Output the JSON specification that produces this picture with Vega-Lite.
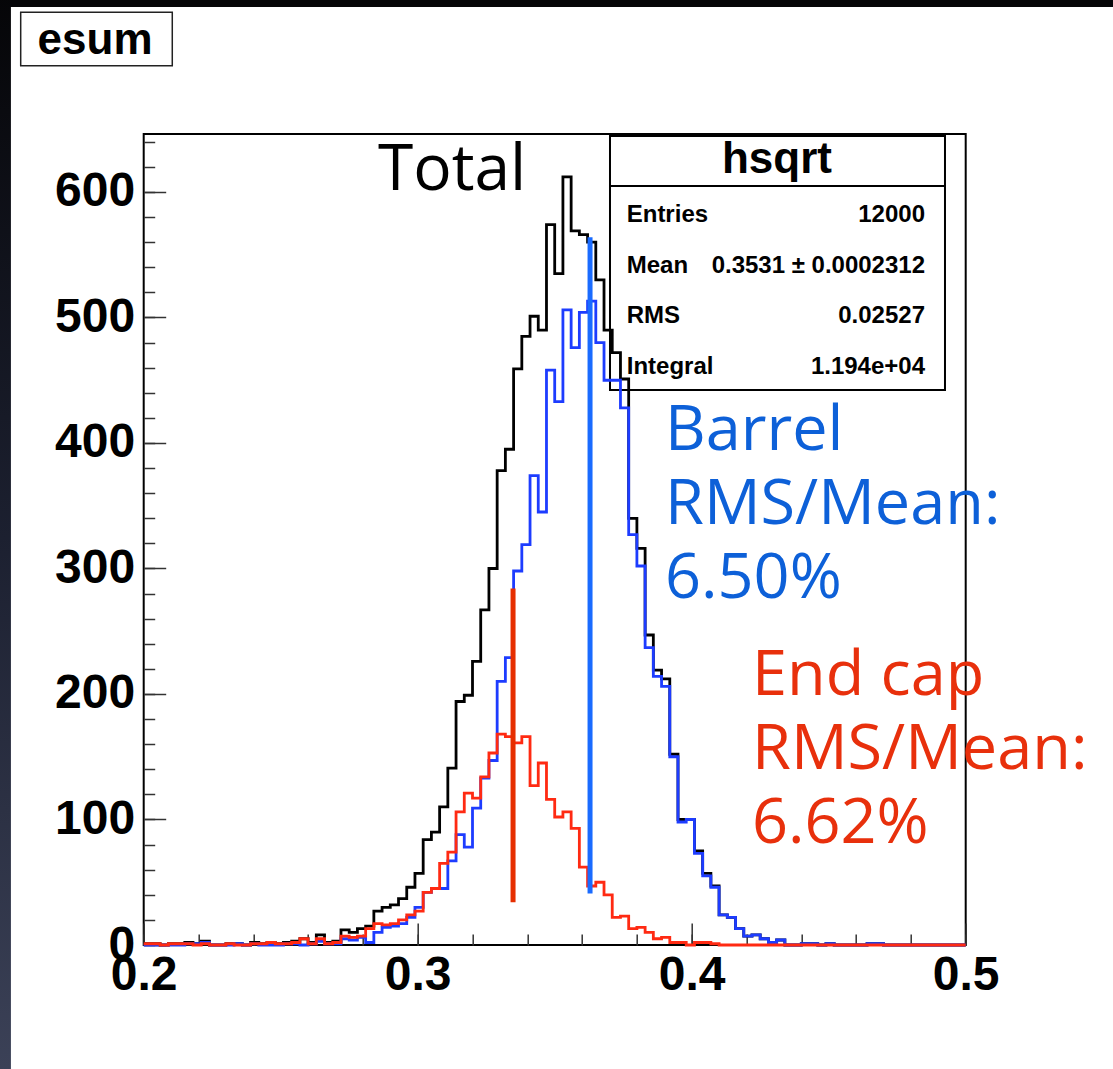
{
  "$schema": "https://vega.github.io/schema/vega-lite/v6.json",
  "width": 822,
  "height": 811,
  "autosize": {"type": "none"},
  "padding": {"left": 143.7, "top": 134, "right": 147.3, "bottom": 124},
  "background": "white",
  "config": {"view": {"stroke": "black", "strokeWidth": 2}},
  "data": {"values": [{}]},
  "datasets": {
    "hist": [
      {"x": 0.2, "total": 1, "barrel": 0, "endcap": 1},
      {"x": 0.203, "total": 1, "barrel": 0, "endcap": 1},
      {"x": 0.206, "total": 0, "barrel": 0, "endcap": 0},
      {"x": 0.209, "total": 1, "barrel": 0, "endcap": 1},
      {"x": 0.212, "total": 1, "barrel": 0, "endcap": 1},
      {"x": 0.215, "total": 2, "barrel": 1, "endcap": 1},
      {"x": 0.218, "total": 1, "barrel": 1, "endcap": 0},
      {"x": 0.221, "total": 3, "barrel": 2, "endcap": 1},
      {"x": 0.224, "total": 0, "barrel": 0, "endcap": 0},
      {"x": 0.227, "total": 0, "barrel": 0, "endcap": 0},
      {"x": 0.23, "total": 1, "barrel": 0, "endcap": 1},
      {"x": 0.233, "total": 1, "barrel": 1, "endcap": 0},
      {"x": 0.236, "total": 0, "barrel": 0, "endcap": 0},
      {"x": 0.239, "total": 2, "barrel": 1, "endcap": 1},
      {"x": 0.242, "total": 1, "barrel": 0, "endcap": 1},
      {"x": 0.245, "total": 2, "barrel": 0, "endcap": 2},
      {"x": 0.248, "total": 1, "barrel": 0, "endcap": 1},
      {"x": 0.251, "total": 2, "barrel": 1, "endcap": 1},
      {"x": 0.254, "total": 3, "barrel": 1, "endcap": 2},
      {"x": 0.257, "total": 5, "barrel": 0, "endcap": 5},
      {"x": 0.26, "total": 2, "barrel": 1, "endcap": 1},
      {"x": 0.263, "total": 8, "barrel": 3, "endcap": 5},
      {"x": 0.266, "total": 2, "barrel": 1, "endcap": 1},
      {"x": 0.269, "total": 3, "barrel": 1, "endcap": 2},
      {"x": 0.272, "total": 12, "barrel": 5, "endcap": 7},
      {"x": 0.275, "total": 10, "barrel": 4, "endcap": 6},
      {"x": 0.278, "total": 13, "barrel": 6, "endcap": 7},
      {"x": 0.281, "total": 15, "barrel": 2, "endcap": 13},
      {"x": 0.284, "total": 27, "barrel": 10, "endcap": 17},
      {"x": 0.287, "total": 30, "barrel": 14, "endcap": 16},
      {"x": 0.29, "total": 32, "barrel": 15, "endcap": 17},
      {"x": 0.293, "total": 37, "barrel": 17, "endcap": 20},
      {"x": 0.296, "total": 46, "barrel": 22, "endcap": 24},
      {"x": 0.299, "total": 57, "barrel": 30, "endcap": 27},
      {"x": 0.302, "total": 84, "barrel": 42, "endcap": 42},
      {"x": 0.305, "total": 90, "barrel": 45, "endcap": 45},
      {"x": 0.308, "total": 110, "barrel": 45, "endcap": 65},
      {"x": 0.311, "total": 141, "barrel": 67, "endcap": 74},
      {"x": 0.314, "total": 194, "barrel": 88, "endcap": 106},
      {"x": 0.317, "total": 199, "barrel": 78, "endcap": 121},
      {"x": 0.32, "total": 226, "barrel": 109, "endcap": 117},
      {"x": 0.323, "total": 267, "barrel": 133, "endcap": 134},
      {"x": 0.326, "total": 300, "barrel": 147, "endcap": 153},
      {"x": 0.329, "total": 378, "barrel": 210, "endcap": 168},
      {"x": 0.332, "total": 395, "barrel": 229, "endcap": 166},
      {"x": 0.335, "total": 459, "barrel": 298, "endcap": 161},
      {"x": 0.338, "total": 485, "barrel": 319, "endcap": 166},
      {"x": 0.341, "total": 501, "barrel": 374, "endcap": 127},
      {"x": 0.344, "total": 490, "barrel": 345, "endcap": 145},
      {"x": 0.347, "total": 574, "barrel": 458, "endcap": 116},
      {"x": 0.35, "total": 535, "barrel": 433, "endcap": 102},
      {"x": 0.353, "total": 612, "barrel": 506, "endcap": 106},
      {"x": 0.356, "total": 569, "barrel": 476, "endcap": 93},
      {"x": 0.359, "total": 566, "barrel": 504, "endcap": 62},
      {"x": 0.362, "total": 560, "barrel": 513, "endcap": 47},
      {"x": 0.365, "total": 530, "barrel": 480, "endcap": 50},
      {"x": 0.368, "total": 490, "barrel": 450, "endcap": 40},
      {"x": 0.371, "total": 472, "barrel": 450, "endcap": 22},
      {"x": 0.374, "total": 451, "barrel": 428, "endcap": 23},
      {"x": 0.377, "total": 340, "barrel": 327, "endcap": 13},
      {"x": 0.38, "total": 316, "barrel": 302, "endcap": 14},
      {"x": 0.383, "total": 247, "barrel": 237, "endcap": 10},
      {"x": 0.386, "total": 219, "barrel": 214, "endcap": 5},
      {"x": 0.389, "total": 212, "barrel": 206, "endcap": 6},
      {"x": 0.392, "total": 152, "barrel": 150, "endcap": 2},
      {"x": 0.395, "total": 100, "barrel": 98, "endcap": 2},
      {"x": 0.398, "total": 100, "barrel": 100, "endcap": 0},
      {"x": 0.401, "total": 75, "barrel": 73, "endcap": 2},
      {"x": 0.404, "total": 57, "barrel": 55, "endcap": 2},
      {"x": 0.407, "total": 47, "barrel": 46, "endcap": 1},
      {"x": 0.41, "total": 24, "barrel": 24, "endcap": 0},
      {"x": 0.413, "total": 22, "barrel": 22, "endcap": 0},
      {"x": 0.416, "total": 13, "barrel": 13, "endcap": 0},
      {"x": 0.419, "total": 7, "barrel": 7, "endcap": 0},
      {"x": 0.422, "total": 8, "barrel": 8, "endcap": 0},
      {"x": 0.425, "total": 5, "barrel": 5, "endcap": 0},
      {"x": 0.428, "total": 2, "barrel": 2, "endcap": 0},
      {"x": 0.431, "total": 4, "barrel": 4, "endcap": 0},
      {"x": 0.434, "total": 0, "barrel": 0, "endcap": 0},
      {"x": 0.437, "total": 0, "barrel": 0, "endcap": 0},
      {"x": 0.44, "total": 1, "barrel": 1, "endcap": 0},
      {"x": 0.443, "total": 1, "barrel": 1, "endcap": 0},
      {"x": 0.446, "total": 0, "barrel": 0, "endcap": 0},
      {"x": 0.449, "total": 1, "barrel": 1, "endcap": 0},
      {"x": 0.452, "total": 0, "barrel": 0, "endcap": 0},
      {"x": 0.455, "total": 0, "barrel": 0, "endcap": 0},
      {"x": 0.458, "total": 0, "barrel": 0, "endcap": 0},
      {"x": 0.461, "total": 0, "barrel": 0, "endcap": 0},
      {"x": 0.464, "total": 1, "barrel": 1, "endcap": 0},
      {"x": 0.467, "total": 1, "barrel": 1, "endcap": 0},
      {"x": 0.47, "total": 0, "barrel": 0, "endcap": 0},
      {"x": 0.473, "total": 0, "barrel": 0, "endcap": 0},
      {"x": 0.476, "total": 0, "barrel": 0, "endcap": 0},
      {"x": 0.479, "total": 0, "barrel": 0, "endcap": 0},
      {"x": 0.482, "total": 0, "barrel": 0, "endcap": 0},
      {"x": 0.485, "total": 0, "barrel": 0, "endcap": 0},
      {"x": 0.488, "total": 0, "barrel": 0, "endcap": 0},
      {"x": 0.491, "total": 0, "barrel": 0, "endcap": 0},
      {"x": 0.494, "total": 0, "barrel": 0, "endcap": 0},
      {"x": 0.497, "total": 0, "barrel": 0, "endcap": 0},
      {"x": 0.5, "total": 0, "barrel": 0, "endcap": 0}
    ],
    "means": [
      {"series": "barrel", "mean": 0.3629, "top": 564, "bottom": 41},
      {"series": "endcap", "mean": 0.3348, "top": 284, "bottom": 34}
    ]
  },
  "resolve": {"axis": {"x": "independent", "y": "independent"}},
  "layer": [
    {
      "mark": {"type": "rect", "color": "#050507"},
      "encoding": {
        "x": {"datum": 0.145, "type": "quantitative", "axis": null, "scale": {"domain": [0.2, 0.5], "nice": false, "zero": false}},
        "x2": {"datum": 0.56},
        "y": {"datum": 747.4, "type": "quantitative", "axis": null, "scale": {"domain": [0, 646.2], "nice": false, "zero": false}},
        "y2": {"datum": 760}
      }
    },
    {
      "mark": {"type": "rect", "color": {"gradient": "linear", "x1": 0, "y1": 0, "x2": 0, "y2": 1, "stops": [{"offset": 0, "color": "#050507"}, {"offset": 0.5, "color": "#1c2030"}, {"offset": 1, "color": "#3c4258"}]}},
      "encoding": {
        "x": {"datum": 0.145, "axis": null},
        "x2": {"datum": 0.15154},
        "y": {"datum": -110, "axis": null},
        "y2": {"datum": 760}
      }
    },
    {
      "mark": {"type": "rect", "fill": "white", "stroke": "#222222", "strokeWidth": 1.5},
      "encoding": {
        "x": {"datum": 0.15511, "axis": null},
        "x2": {"datum": 0.21043},
        "y": {"datum": 743.2, "axis": null},
        "y2": {"datum": 700.6}
      }
    },
    {
      "mark": {"type": "text", "text": "esum", "font": "Liberation Sans", "fontWeight": "bold", "fontSize": 44, "align": "center", "baseline": "alphabetic", "color": "black"},
      "encoding": {"x": {"datum": 0.18226, "axis": null}, "y": {"datum": 709.7, "axis": null}}
    },
    {
      "mark": {"type": "rect", "fill": "white", "stroke": "black", "strokeWidth": 2},
      "encoding": {
        "x": {"datum": 0.37018, "axis": null},
        "x2": {"datum": 0.49244},
        "y": {"datum": 644.6, "axis": null},
        "y2": {"datum": 442.2}
      }
    },
    {
      "mark": {"type": "rule", "color": "black", "strokeWidth": 2},
      "encoding": {
        "x": {"datum": 0.37018, "axis": null},
        "x2": {"datum": 0.49244},
        "y": {"datum": 604.8, "axis": null}
      }
    },
    {
      "data": {"name": "hist"},
      "mark": {"type": "line", "interpolate": "step-after", "color": "black", "strokeWidth": 2.8},
      "encoding": {
        "x": {
          "field": "x", "type": "quantitative",
          "axis": {
            "orient": "bottom", "title": null,
            "values": [0.2, 0.3, 0.4, 0.5],
            "format": ".1f",
            "labelFont": "Liberation Sans", "labelFontWeight": "bold", "labelFontSize": 48, "labelColor": "black",
            "labelFlush": false, "labelOverlap": false, "labelPadding": 28,
            "tickSize": -22, "tickColor": "#333333", "tickWidth": 1.5,
            "domain": false, "grid": false
          }
        },
        "y": {
          "field": "total", "type": "quantitative",
          "axis": {
            "orient": "left", "title": null,
            "values": [0, 100, 200, 300, 400, 500, 600],
            "labelFont": "Liberation Sans", "labelFontWeight": "bold", "labelFontSize": 48, "labelColor": "black",
            "labelFlush": false, "labelOverlap": false, "labelPadding": 31,
            "tickSize": -22, "tickColor": "#333333", "tickWidth": 1.5,
            "domain": false, "grid": false
          }
        }
      }
    },
    {
      "data": {"name": "hist"},
      "mark": {"type": "line", "interpolate": "step-after", "color": "#1d3cff", "strokeWidth": 2.8},
      "encoding": {
        "x": {
          "field": "x", "type": "quantitative",
          "axis": {
            "orient": "bottom", "title": null, "labels": false,
            "values": [0.2, 0.22, 0.24, 0.26, 0.28, 0.3, 0.32, 0.34, 0.36, 0.38, 0.4, 0.42, 0.44, 0.46, 0.48, 0.5],
            "tickSize": -11, "tickColor": "#333333", "tickWidth": 1.5,
            "domain": false, "grid": false
          }
        },
        "y": {
          "field": "barrel", "type": "quantitative",
          "axis": {
            "orient": "left", "title": null, "labels": false,
            "values": [0, 20, 40, 60, 80, 100, 120, 140, 160, 180, 200, 220, 240, 260, 280, 300, 320, 340, 360, 380, 400, 420, 440, 460, 480, 500, 520, 540, 560, 580, 600, 620, 640],
            "tickSize": -11, "tickColor": "#333333", "tickWidth": 1.5,
            "domain": false, "grid": false
          }
        }
      }
    },
    {
      "data": {"name": "hist"},
      "mark": {"type": "line", "interpolate": "step-after", "color": "#ff2a12", "strokeWidth": 2.8},
      "encoding": {
        "x": {"field": "x", "type": "quantitative", "axis": null},
        "y": {"field": "endcap", "type": "quantitative", "axis": null}
      }
    },
    {
      "data": {"name": "means"},
      "mark": {"type": "rule", "strokeWidth": 5},
      "encoding": {
        "x": {"field": "mean", "type": "quantitative", "axis": null},
        "y": {"field": "top", "type": "quantitative", "axis": null},
        "y2": {"field": "bottom"},
        "color": {"field": "series", "type": "nominal", "scale": {"domain": ["barrel", "endcap"], "range": ["#1a6bff", "#e62e00"]}, "legend": null}
      }
    },
    {
      "mark": {"type": "text", "text": "hsqrt", "font": "Liberation Sans", "fontWeight": "bold", "fontSize": 44, "align": "center", "baseline": "alphabetic", "color": "black"},
      "encoding": {"x": {"datum": 0.43113, "axis": null}, "y": {"datum": 615.1, "axis": null}}
    },
    {
      "mark": {"type": "text", "text": ["Entries", "Mean", "RMS", "Integral"], "lineHeight": 50.7, "font": "Liberation Sans", "fontWeight": "bold", "fontSize": 24, "align": "left", "baseline": "alphabetic", "color": "black"},
      "encoding": {"x": {"datum": 0.37628, "axis": null}, "y": {"datum": 576.1, "axis": null}}
    },
    {
      "mark": {"type": "text", "text": ["12000", "0.3531 ± 0.0002312", "0.02527", "1.194e+04"], "lineHeight": 50.7, "font": "Liberation Sans", "fontWeight": "bold", "fontSize": 24, "align": "right", "baseline": "alphabetic", "color": "black"},
      "encoding": {"x": {"datum": 0.48515, "axis": null}, "y": {"datum": 576.1, "axis": null}}
    },
    {
      "mark": {"type": "text", "text": "Total", "font": "Open Sans", "fontSize": 64, "align": "left", "baseline": "alphabetic", "color": "black"},
      "encoding": {"x": {"datum": 0.2855, "axis": null}, "y": {"datum": 601.6, "axis": null}}
    },
    {
      "mark": {"type": "text", "text": ["Barrel", "RMS/Mean:", "6.50%"], "lineHeight": 74, "font": "Open Sans", "fontSize": 63, "align": "left", "baseline": "alphabetic", "color": "#0d60d8"},
      "encoding": {"x": {"datum": 0.39026, "axis": null}, "y": {"datum": 394.4, "axis": null}}
    },
    {
      "mark": {"type": "text", "text": ["End cap", "RMS/Mean:", "6.62%"], "lineHeight": 74, "font": "Open Sans", "fontSize": 63, "align": "left", "baseline": "alphabetic", "color": "#e8300c"},
      "encoding": {"x": {"datum": 0.42201, "axis": null}, "y": {"datum": 199.2, "axis": null}}
    }
  ]
}
